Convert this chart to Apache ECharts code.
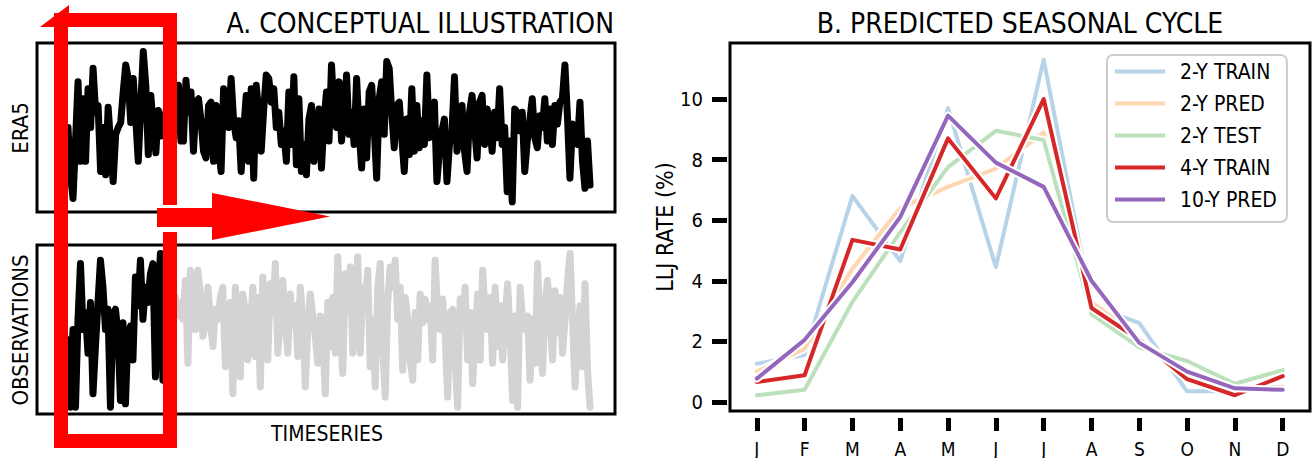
<!DOCTYPE html>
<html>
<head>
<meta charset="utf-8">
<script src="https://cdn.jsdelivr.net/npm/echarts@6/dist/echarts.min.js"></script>
<style>
html,body{margin:0;padding:0;background:#fff;}
#c{width:1312px;height:458px;}
</style>
</head>
<body>
<div id="c"></div>
<script>
// ---------- DATA ----------
// Panel A: conceptual timeseries (arbitrary units, 0-100)
const era5 = [50,22,8,42,77,30,67,30,73,50,85,59,63,24,50,22,62,40,18,46,50,53,71,87,79,53,79,55,30,63,95,75,34,69,
  50,35,60,45,55,
  59,67,46,63,48,75,42,
  42,78,59,71,36,65,67,54,36,32,63,65,30,63,40,24,73,59,50,79,54,44,54,24,48,69,30,73,20,75,59,36,61,81,79,65,73,50,59,40,48,30,71,40,80,28,67,24,40,22,55,63,30,44,61,
  26,54,71,42,87,59,50,77,42,59,81,46,59,40,79,48,26,61,32,71,75,50,20,67,77,46,89,85,59,38,63,65,44,24,55,34,73,36,63,38,54,40,81,44,55,65,18,36,48,55,18,40,48,80,36,
  44,63,36,24,59,69,50,32,65,69,40,61,52,36,59,44,73,40,50,12,42,6,61,59,48,59,24,42,54,67,44,38,57,50,67,42,61,40,63,52,65,67,87,57,20,52,44,40,65,30,14,42,16];
const observations = [44,4,50,4,56,89,50,60,36,66,12,40,66,91,75,50,62,4,58,62,48,8,54,6,48,52,32,81,64,91,56,75,66,83,89,22,69,95,20,75,46,83,18,
  69,58,66,56,79,30,85,62,50,85,71,46,52,75,56,40,62,56,69,75,28,46,66,12,75,56,22,71,60,32,50,75,34,69,16,81,54,32,77,60,89,36,56,79,54,36,71,52,64,34,75,56,16,50,71,58,46,30,58,46,12,
  66,40,69,36,93,50,24,83,60,87,36,69,93,36,75,66,85,28,56,16,75,89,40,10,66,87,75,91,56,75,26,69,56,32,20,60,32,71,54,68,56,64,32,91,60,50,68,46,10,60,62,32,4,68,54,75,32,60,18,46,71,32,85,60,50,69,30,75,40,64,32,56,77,48,8,58,4,75,56,50,58,20,56,30,89,46,24,66,79,56,32,73,48,69,36,56,79,95,56,16,46,64,28,77,26,4];
const observedCount = 43; // first part of observations shown in black

// Panel B: predicted seasonal cycle (LLJ rate, %)
const months = ['J','F','M','A','M','J','J','A','S','O','N','D'];
const train2y  = [1.26,1.55,6.8,4.65,9.7,4.45,11.3,3.2,2.6,0.35,0.35,0.5];
const pred2y   = [1.0,1.75,4.4,6.4,7.1,7.7,8.9,3.3,2.1,0.8,0.45,0.5];
const test2y   = [0.22,0.4,3.3,5.6,7.75,8.95,8.65,2.9,1.8,1.35,0.6,1.05];
const train4y  = [0.66,0.88,5.35,5.03,8.7,6.72,10.0,3.1,2.05,0.75,0.22,0.85];
const pred10y  = [0.77,2.05,3.95,6.1,9.45,7.9,7.1,4.0,1.95,1.0,0.45,0.4];
const yTicks = [0,2,4,6,8,10];

const seriesDefs = [
  {name:'2-Y TRAIN', data:train2y, color:'#1f77b4', opacity:0.32},
  {name:'2-Y PRED',  data:pred2y,  color:'#ff7f0e', opacity:0.32},
  {name:'2-Y TEST',  data:test2y,  color:'#2ca02c', opacity:0.32},
  {name:'4-Y TRAIN', data:train4y, color:'#d62728', opacity:1},
  {name:'10-Y PRED', data:pred10y, color:'#9467bd', opacity:1}
];

// ---------- CHART ----------
const FONT = "'Liberation Sans Narrow','DejaVu Sans Condensed','DejaVu Sans',sans-serif";
const chart = echarts.init(document.getElementById('c'), null, {renderer:'svg'});

const idx = arr => arr.map((v,i)=>[i,v]);

const seasonalSeries = [];
seriesDefs.forEach(s=>{
  // white halo under each line (hand-drawn style)
  seasonalSeries.push({type:'line', xAxisIndex:2, yAxisIndex:2, data:idx(s.data), showSymbol:false, silent:true,
    lineStyle:{color:'#ffffff', width:8, join:'round', cap:'round'}});
  seasonalSeries.push({type:'line', name:s.name, xAxisIndex:2, yAxisIndex:2, data:idx(s.data), showSymbol:false, silent:true,
    color:s.color, lineStyle:{color:s.color, width:4, opacity:s.opacity, join:'round', cap:'round'}});
});

const option = {
  animation:false,
  backgroundColor:'#fff',
  textStyle:{fontFamily:FONT, color:'#000'},
  grid:[
    {left:37, top:43, width:578, height:169, show:true, borderColor:'#000', borderWidth:3, backgroundColor:'transparent'},
    {left:37, top:245, width:578, height:169, show:true, borderColor:'#000', borderWidth:3, backgroundColor:'transparent'},
    {left:730, top:43, width:580, height:370, show:true, borderColor:'#000', borderWidth:3, backgroundColor:'transparent'}
  ],
  xAxis:[
    {type:'value', gridIndex:0, min:-12.35, max:217.96, show:false},
    {type:'value', gridIndex:1, min:-12.41, max:219.0, show:false},
    {type:'value', gridIndex:2, min:-0.56, max:11.57, offset:7, position:'bottom',
     axisLine:{show:false, onZero:false}, splitLine:{show:false},
     axisTick:{show:true, inside:false, length:13, lineStyle:{color:'#000', width:5}, customValues:months.map((m,i)=>i)},
     axisLabel:{customValues:months.map((m,i)=>i), formatter:v=>months[v], fontSize:19, fontFamily:FONT, color:'#000', margin:21}
    }
  ],
  yAxis:[
    {type:'value', gridIndex:0, min:0, max:100, show:false},
    {type:'value', gridIndex:1, min:0, max:100, show:false},
    {type:'value', gridIndex:2, min:-0.3, max:11.85, offset:3, position:'left',
     axisLine:{show:false, onZero:false}, splitLine:{show:false},
     axisTick:{show:true, inside:false, length:15, lineStyle:{color:'#000', width:5}, customValues:yTicks},
     axisLabel:{customValues:yTicks, fontSize:20, fontFamily:FONT, color:'#000', margin:24},
     name:'LLJ RATE (%)', nameLocation:'middle', nameGap:50, nameRotate:90,
     nameTextStyle:{fontSize:23, fontFamily:FONT, color:'#000'}
    }
  ],
  legend:{
    left:1107, top:55, orient:'vertical',
    padding:[6,10,12,8], itemGap:11, itemWidth:50, itemHeight:4,
    backgroundColor:'#fff', borderColor:'#cccccc', borderWidth:2, borderRadius:6,
    textStyle:{fontSize:21, fontFamily:FONT, color:'#000', lineHeight:21, padding:[0,0,0,10]},
    data:seriesDefs.map(s=>({name:s.name, icon:'rect', itemStyle:{color:s.color, opacity:s.opacity}}))
  },
  series:[
    {type:'line', xAxisIndex:0, yAxisIndex:0, data:idx(era5), showSymbol:false, silent:true,
     lineStyle:{color:'#000', width:7, join:'round', cap:'round'}},
    {type:'line', xAxisIndex:1, yAxisIndex:1, data:idx(observations).slice(observedCount), showSymbol:false, silent:true,
     lineStyle:{color:'#d3d3d3', width:7, join:'round', cap:'round'}},
    {type:'line', xAxisIndex:1, yAxisIndex:1, data:idx(observations).slice(0, observedCount), showSymbol:false, silent:true,
     lineStyle:{color:'#000', width:7, join:'round', cap:'round'}}
  ].concat(seasonalSeries),
  graphic:[
    {type:'text', x:614, y:23, style:{text:'A. CONCEPTUAL ILLUSTRATION', font:'28px '+FONT, fill:'#000', align:'right', verticalAlign:'middle'}},
    {type:'text', x:1020, y:23, style:{text:'B. PREDICTED SEASONAL CYCLE', font:'28px '+FONT, fill:'#000', align:'center', verticalAlign:'middle'}},
    {type:'text', x:20, y:128, rotation:Math.PI/2, style:{text:'ERA5', font:'22px '+FONT, fill:'#000', align:'center', verticalAlign:'middle'}},
    {type:'text', x:20, y:330, rotation:Math.PI/2, style:{text:'OBSERVATIONS', font:'22px '+FONT, fill:'#000', align:'center', verticalAlign:'middle'}},
    {type:'text', x:327, y:434, style:{text:'TIMESERIES', font:'21px '+FONT, fill:'#000', align:'center', verticalAlign:'middle'}},
    // red annotation: highlighted window + arrows
    {type:'polyline', z:100, shape:{points:[[170,205],[170,20],[61,20],[61,441],[170,441],[170,232]]},
     style:{stroke:'#ff0000', lineWidth:14, fill:null, lineJoin:'miter'}},
    {type:'polygon', z:100, shape:{points:[[69,5],[40,27],[69,27]]}, style:{fill:'#ff0000'}},
    {type:'polygon', z:100, shape:{points:[[157,208],[212,208],[212,193],[330,216.5],[212,240],[212,227],[157,227]]}, style:{fill:'#ff0000'}}
  ]
};
chart.setOption(option);
</script>
</body>
</html>
